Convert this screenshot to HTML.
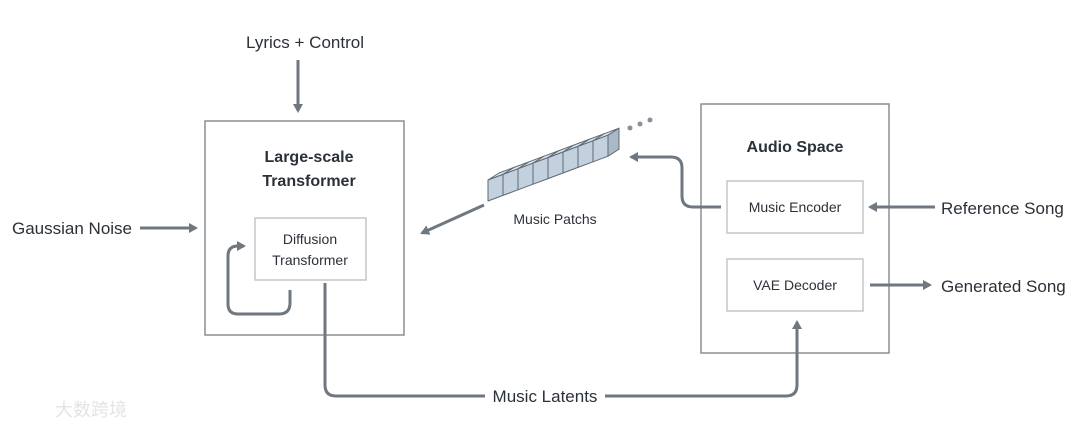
<!DOCTYPE html>
<html><head><meta charset="utf-8"><style>
body{margin:0;background:#fff;width:1080px;height:429px;overflow:hidden}
svg text{font-family:"Liberation Sans","Noto Sans CJK SC",sans-serif;fill:#2b3138}
</style></head><body>
<svg width="1080" height="429" viewBox="0 0 1080 429">
<defs><marker id="a" markerWidth="10" markerHeight="10" refX="7" refY="5" orient="auto" markerUnits="userSpaceOnUse"><path d="M0,0 L9,5 L0,10 z" fill="#6f7780"/></marker></defs>
<g fill="none" stroke="#8a8f96" stroke-width="1.5">
<rect x="205" y="121" width="199" height="214"/>
<rect x="255" y="218" width="111" height="62" stroke="#c3c6ca"/>
<rect x="701" y="104" width="188" height="249"/>
<rect x="727" y="181" width="136" height="52" stroke="#c3c6ca"/>
<rect x="727" y="259" width="136" height="52" stroke="#c3c6ca"/>
</g>
<g fill="none" stroke="#6f7780" stroke-width="3" marker-end="url(#a)">
<line x1="298" y1="60" x2="298" y2="111"/>
<line x1="140" y1="228" x2="196" y2="228"/>
<path d="M290 290 V303 Q290 314 279 314 H238 Q228 314 228 304 V256 Q228 246 238 246 H244"/>
<line x1="484" y1="205" x2="422" y2="233"/>
<path d="M721 207 H693 Q682 207 682 196 V168 Q682 157 671 157 H631"/>
<line x1="935" y1="207" x2="870" y2="207"/>
<line x1="870" y1="285" x2="930" y2="285"/>
<path d="M325 283 V385 Q325 396 336 396 H485 M605 396 H786 Q797 396 797 385 V322"/>
</g>
<g id="c" stroke="#5f6a75" stroke-width="1" stroke-linejoin="round"></g>
<g fill="#8a9099"><circle cx="630" cy="128" r="2.5"/><circle cx="640" cy="124" r="2.5"/><circle cx="650" cy="120" r="2.5"/></g>
<g font-size="17">
<text x="305" y="48" text-anchor="middle">Lyrics + Control</text>
<text x="12" y="234">Gaussian Noise</text>
<text x="941" y="214">Reference Song</text>
<text x="941" y="292">Generated Song</text>
<text x="545" y="402" text-anchor="middle">Music Latents</text>
</g>
<g font-size="16" font-weight="bold" text-anchor="middle">
<text x="309" y="162">Large-scale</text>
<text x="309" y="186">Transformer</text>
<text x="795" y="152">Audio Space</text>
</g>
<g font-size="14" text-anchor="middle">
<text x="310" y="244">Diffusion</text>
<text x="310" y="265">Transformer</text>
<text x="795" y="212">Music Encoder</text>
<text x="795" y="290">VAE Decoder</text>
<text x="555" y="224">Music Patchs</text>
</g>
<text x="55" y="416" font-size="18" style="fill:#e4e4e4">大数跨境</text>
</svg>
<script>
var g=document.getElementById('c'),s='';
var w=15,dy=-5.6,h=21,tx=11,ty=-7;
for(var i=0;i<8;i++){var x=488+i*w,y=180+i*dy;
s+='<path d="M'+x+' '+y+' l'+w+' '+dy+' l'+tx+' '+ty+' l'+(-w)+' '+(-dy)+' z" fill="#dbe5ec"/>';
s+='<path d="M'+x+' '+y+' l'+w+' '+dy+' v'+h+' l'+(-w)+' '+(-dy)+' z" fill="#c2d1dd"/>';}
var x=488+8*w,y=180+8*dy;
s+='<path d="M'+x+' '+y+' l'+tx+' '+ty+' v'+h+' l'+(-tx)+' '+(-ty)+' z" fill="#a9b9c7"/>';
g.innerHTML=s;
</script>
</body></html>
